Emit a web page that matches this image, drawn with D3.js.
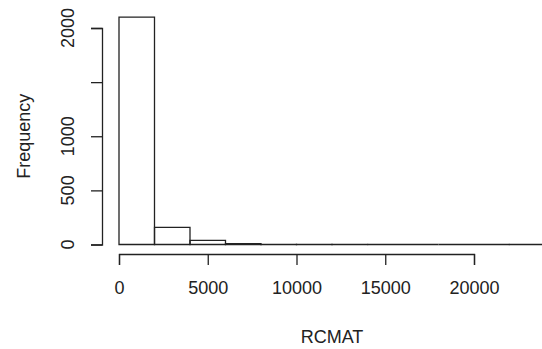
<!DOCTYPE html>
<html lang="en">
<head>
  <meta charset="UTF-8">
  <title>Histogram of RCMAT</title>
  <style>
    body { margin: 0; background: #fff; }
    svg { display: block; }
    text { font-family: "Liberation Sans", Arial, sans-serif; fill: #222; }
  </style>
</head>
<body>
  <div id="chart"></div>
  <script src="https://d3js.org/d3.v7.min.js"></script>
  <script>
    // Bin edges (width 2000) and counts
    const binStarts = [0, 2000, 4000, 6000, 8000, 10000, 12000, 14000, 16000, 18000, 20000, 22000];
    const counts = [2100, 159, 39, 9, 2, 1, 1, 0, 0, 0, 0, 1];
    const binWidth = 2000;
    const xTicks = [0, 5000, 10000, 15000, 20000];
    const yTicks = [0, 500, 1000, 1500, 2000];
    const yLabelTicks = [0, 500, 1000, 2000];

    const width = 542;
    const height = 349;
    const ink = '#222';

    const svg = d3.select('#chart')
      .append('svg')
      .attr('width', width)
      .attr('height', height);

    const x = d3.scaleLinear().domain([0, 20000]).range([119, 474]);
    const y = d3.scaleLinear().domain([0, 2000]).range([244.5, 28]);

    // Bars as closed paths so empty bins still show as a line
    svg.append('g')
      .selectAll('path')
      .data(binStarts)
      .join('path')
      .attr('d', (d, i) => {
        const x0 = x(d), x1 = x(d + binWidth), y0 = y(0), y1 = y(counts[i]);
        return `M${x0},${y0}V${y1}H${x1}V${y0}Z`;
      })
      .attr('fill', 'none')
      .attr('stroke', ink)
      .attr('stroke-width', 1.3);

    // X axis
    const xAxis = svg.append('g')
      .attr('transform', 'translate(0, 254)')
      .call(d3.axisBottom(x).tickValues(xTicks).tickSize(11).tickPadding(16).tickFormat(d3.format('d')));
    xAxis.selectAll('path, line').attr('stroke', ink).attr('stroke-width', 1.3);
    xAxis.selectAll('text').style('font-size', '18px').style('font-family', '"Liberation Sans", Arial, sans-serif');

    // Y axis
    const yAxis = svg.append('g')
      .attr('transform', 'translate(102, 0)')
      .call(d3.axisLeft(y).tickValues(yTicks).tickSize(11).tickFormat(() => ''));
    yAxis.selectAll('path, line').attr('stroke', ink).attr('stroke-width', 1.3);

    svg.append('g')
      .selectAll('text')
      .data(yLabelTicks)
      .join('text')
      .attr('transform', (d) => `translate(74, ${y(d)}) rotate(-90)`)
      .attr('text-anchor', 'middle')
      .style('font-size', '18px')
      .text((d) => d);

    // Axis titles
    svg.append('text')
      .attr('x', 332)
      .attr('y', 343)
      .attr('text-anchor', 'middle')
      .style('font-size', '18px')
      .text('RCMAT');

    svg.append('text')
      .attr('transform', `translate(30, ${y(1000)}) rotate(-90)`)
      .attr('text-anchor', 'middle')
      .style('font-size', '18px')
      .text('Frequency');
  </script>
</body>
</html>
